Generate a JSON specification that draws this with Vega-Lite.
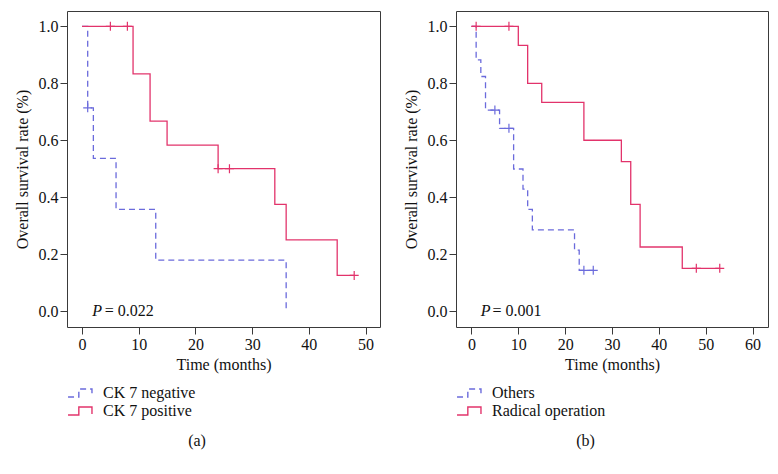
{
  "$schema": "https://vega.github.io/schema/vega-lite/v6.json",
  "padding": {"left": 13, "top": 10, "right": 5, "bottom": 5},
  "spacing": 21,
  "config": {
    "font": "Liberation Serif",
    "view": {"stroke": "#3a3a3a", "strokeWidth": 1},
    "axis": {
      "labelFont": "Liberation Serif", "labelFontSize": 16, "labelColor": "#111",
      "titleFont": "Liberation Serif", "titleFontSize": 16, "titleFontWeight": "normal", "titleColor": "#111",
      "domain": false, "grid": false, "tickColor": "#3a3a3a", "tickSize": 7, "labelPadding": 2
    },
    "axisX": {"titlePadding": 4},
    "axisY": {"titlePadding": 8},
    "legend": {
      "orient": "none", "legendX": 3, "legendY": 372, "direction": "vertical",
      "labelFont": "Liberation Serif", "labelFontSize": 16, "labelColor": "#111",
      "symbolType": "M-1.33,0.44H-0.13V-0.44H1.33V0.33", "symbolSize": 324, "symbolStrokeWidth": 1.4,
      "labelOffset": 13, "rowPadding": 0, "padding": 0
    },
    "title": {"font": "Liberation Serif", "fontSize": 16, "fontWeight": "normal", "color": "#111"}
  },
  "datasets": {
    "a_lines": [
      {"group": "CK 7 negative", "time": 0, "surv": 1},
      {"group": "CK 7 negative", "time": 1, "surv": 0.714},
      {"group": "CK 7 negative", "time": 2, "surv": 0.536},
      {"group": "CK 7 negative", "time": 6, "surv": 0.357},
      {"group": "CK 7 negative", "time": 13, "surv": 0.179},
      {"group": "CK 7 negative", "time": 36, "surv": 0},
      {"group": "CK 7 positive", "time": 0, "surv": 1},
      {"group": "CK 7 positive", "time": 9, "surv": 0.833},
      {"group": "CK 7 positive", "time": 12, "surv": 0.667},
      {"group": "CK 7 positive", "time": 15, "surv": 0.583},
      {"group": "CK 7 positive", "time": 24, "surv": 0.5},
      {"group": "CK 7 positive", "time": 34, "surv": 0.375},
      {"group": "CK 7 positive", "time": 36, "surv": 0.25},
      {"group": "CK 7 positive", "time": 45, "surv": 0.125},
      {"group": "CK 7 positive", "time": 48, "surv": 0.125}
    ],
    "a_cens": [
      {"group": "CK 7 negative", "time": 1, "surv": 0.714},
      {"group": "CK 7 positive", "time": 5, "surv": 1},
      {"group": "CK 7 positive", "time": 8, "surv": 1},
      {"group": "CK 7 positive", "time": 24, "surv": 0.5},
      {"group": "CK 7 positive", "time": 26, "surv": 0.5},
      {"group": "CK 7 positive", "time": 48, "surv": 0.125}
    ],
    "a_p": [{"label": "P", "time": 1.8, "surv": 0}],
    "a_val": [{"label": "= 0.022", "time": 4.0, "surv": 0}],
    "b_lines": [
      {"group": "Others", "time": 0, "surv": 1},
      {"group": "Others", "time": 1, "surv": 0.882},
      {"group": "Others", "time": 2, "surv": 0.824},
      {"group": "Others", "time": 3, "surv": 0.706},
      {"group": "Others", "time": 6, "surv": 0.642},
      {"group": "Others", "time": 9, "surv": 0.499},
      {"group": "Others", "time": 11, "surv": 0.428},
      {"group": "Others", "time": 12, "surv": 0.357},
      {"group": "Others", "time": 13, "surv": 0.285},
      {"group": "Others", "time": 22, "surv": 0.214},
      {"group": "Others", "time": 23, "surv": 0.143},
      {"group": "Others", "time": 26, "surv": 0.143},
      {"group": "Radical operation", "time": 0, "surv": 1},
      {"group": "Radical operation", "time": 10, "surv": 0.933},
      {"group": "Radical operation", "time": 12, "surv": 0.8},
      {"group": "Radical operation", "time": 15, "surv": 0.733},
      {"group": "Radical operation", "time": 24, "surv": 0.6},
      {"group": "Radical operation", "time": 32, "surv": 0.525},
      {"group": "Radical operation", "time": 34, "surv": 0.375},
      {"group": "Radical operation", "time": 36, "surv": 0.225},
      {"group": "Radical operation", "time": 45, "surv": 0.15},
      {"group": "Radical operation", "time": 53, "surv": 0.15}
    ],
    "b_cens": [
      {"group": "Others", "time": 5, "surv": 0.706},
      {"group": "Others", "time": 8, "surv": 0.642},
      {"group": "Others", "time": 24, "surv": 0.143},
      {"group": "Others", "time": 26, "surv": 0.143},
      {"group": "Radical operation", "time": 1, "surv": 1},
      {"group": "Radical operation", "time": 8, "surv": 1},
      {"group": "Radical operation", "time": 48, "surv": 0.15},
      {"group": "Radical operation", "time": 53, "surv": 0.15}
    ],
    "b_p": [{"label": "P", "time": 2.0, "surv": 0}],
    "b_val": [{"label": "= 0.001", "time": 4.5, "surv": 0}]
  },
  "hconcat": [
    {
      "width": 313, "height": 316,
      "title": {"text": "(a)", "orient": "bottom", "anchor": "middle", "frame": "bounds", "offset": 14},
      "layer": [
        {
          "data": {"name": "a_lines"},
          "mark": {"type": "line", "interpolate": "step-after", "strokeWidth": 1.3},
          "encoding": {
            "x": {"field": "time", "type": "quantitative", "scale": {"domain": [-2.65, 52.55], "nice": false, "zero": false}, "axis": {"values": [0, 10, 20, 30, 40, 50], "title": "Time (months)"}},
            "y": {"field": "surv", "type": "quantitative", "scale": {"domain": [-0.056, 1.054], "nice": false}, "axis": {"values": [0, 0.2, 0.4, 0.6, 0.8, 1.0], "format": ".1f", "title": "Overall survival rate (%)"}},
            "color": {"field": "group", "type": "nominal", "scale": {"domain": ["CK 7 negative", "CK 7 positive"], "range": ["#6b6bdc", "#e2336b"]}, "legend": {"title": null}},
            "strokeDash": {"field": "group", "type": "nominal", "scale": {"domain": ["CK 7 negative", "CK 7 positive"], "range": [[6, 4], [1, 0]]}, "legend": {"title": null}}
          }
        },
        {
          "data": {"name": "a_cens"},
          "mark": {"type": "point", "shape": "M0,-1V1M-1,0H1", "filled": false, "size": 81, "strokeWidth": 1.2, "opacity": 1},
          "encoding": {
            "x": {"field": "time", "type": "quantitative"},
            "y": {"field": "surv", "type": "quantitative"},
            "color": {"field": "group", "type": "nominal", "legend": null}
          }
        },
        {
          "data": {"name": "a_p"},
          "mark": {"type": "text", "align": "left", "baseline": "middle", "fontSize": 16, "fontStyle": "italic", "color": "#111"},
          "encoding": {
            "x": {"field": "time", "type": "quantitative"},
            "y": {"field": "surv", "type": "quantitative"},
            "text": {"field": "label"}
          }
        },
        {
          "data": {"name": "a_val"},
          "mark": {"type": "text", "align": "left", "baseline": "middle", "fontSize": 16, "color": "#111"},
          "encoding": {
            "x": {"field": "time", "type": "quantitative"},
            "y": {"field": "surv", "type": "quantitative"},
            "text": {"field": "label"}
          }
        }
      ]
    },
    {
      "width": 312, "height": 316,
      "title": {"text": "(b)", "orient": "bottom", "anchor": "middle", "frame": "bounds", "offset": 14},
      "layer": [
        {
          "data": {"name": "b_lines"},
          "mark": {"type": "line", "interpolate": "step-after", "strokeWidth": 1.3},
          "encoding": {
            "x": {"field": "time", "type": "quantitative", "scale": {"domain": [-3.3, 63.3], "nice": false, "zero": false}, "axis": {"values": [0, 10, 20, 30, 40, 50, 60], "title": "Time (months)"}},
            "y": {"field": "surv", "type": "quantitative", "scale": {"domain": [-0.056, 1.054], "nice": false}, "axis": {"values": [0, 0.2, 0.4, 0.6, 0.8, 1.0], "format": ".1f", "title": "Overall survival rate (%)"}},
            "color": {"field": "group", "type": "nominal", "scale": {"domain": ["Others", "Radical operation"], "range": ["#6b6bdc", "#e2336b"]}, "legend": {"title": null}},
            "strokeDash": {"field": "group", "type": "nominal", "scale": {"domain": ["Others", "Radical operation"], "range": [[6, 4], [1, 0]]}, "legend": {"title": null}}
          }
        },
        {
          "data": {"name": "b_cens"},
          "mark": {"type": "point", "shape": "M0,-1V1M-1,0H1", "filled": false, "size": 81, "strokeWidth": 1.2, "opacity": 1},
          "encoding": {
            "x": {"field": "time", "type": "quantitative"},
            "y": {"field": "surv", "type": "quantitative"},
            "color": {"field": "group", "type": "nominal", "legend": null}
          }
        },
        {
          "data": {"name": "b_p"},
          "mark": {"type": "text", "align": "left", "baseline": "middle", "fontSize": 16, "fontStyle": "italic", "color": "#111"},
          "encoding": {
            "x": {"field": "time", "type": "quantitative"},
            "y": {"field": "surv", "type": "quantitative"},
            "text": {"field": "label"}
          }
        },
        {
          "data": {"name": "b_val"},
          "mark": {"type": "text", "align": "left", "baseline": "middle", "fontSize": 16, "color": "#111"},
          "encoding": {
            "x": {"field": "time", "type": "quantitative"},
            "y": {"field": "surv", "type": "quantitative"},
            "text": {"field": "label"}
          }
        }
      ]
    }
  ],
  "resolve": {
    "scale": {"color": "independent", "strokeDash": "independent", "x": "independent", "y": "independent"},
    "legend": {"color": "independent", "strokeDash": "independent"}
  }
}
